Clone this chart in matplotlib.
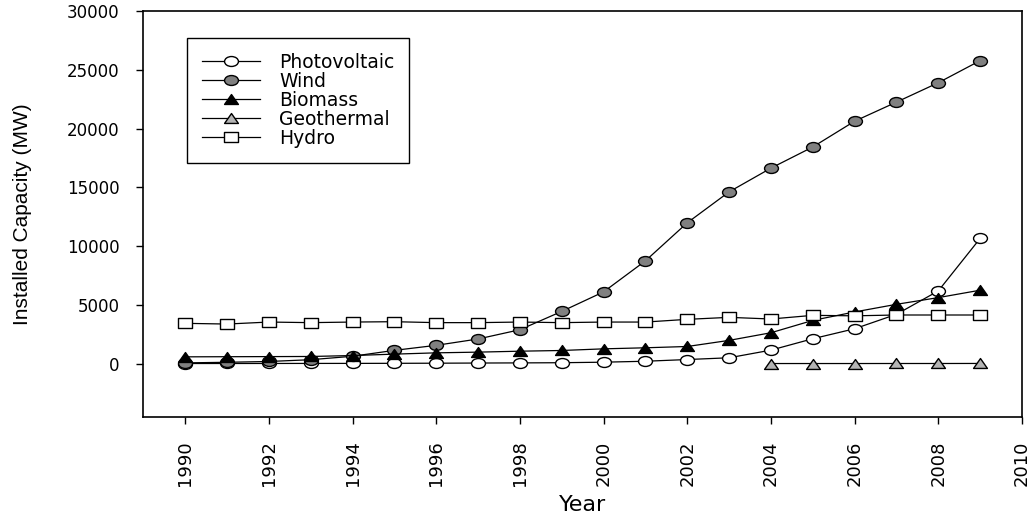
import numpy as np
import matplotlib
matplotlib.use("Agg")
from matplotlib import pyplot as plt
from matplotlib.path import Path
from matplotlib.transforms import Affine2D

years = list(range(1990, 2010))
geo_years = list(range(2004, 2010))

photovoltaic = [2, 3, 6, 9, 12, 18, 28, 42, 54, 70,
                114, 195, 340, 490, 1140, 2110, 2960, 4190, 6180, 10650]
wind = [55, 106, 174, 326, 618, 1121, 1549, 2089, 2877, 4435,
        6097, 8738, 11976, 14609, 16629, 18428, 20622, 22247, 23897, 25777]
biomass = [570, 580, 590, 600, 680, 800, 910, 970, 1050, 1110,
           1250, 1340, 1450, 1970, 2620, 3670, 4390, 5040, 5610, 6240]
geothermal = [0.2, 0.2, 0.4, 3, 3, 7.5]
hydro = [3420, 3360, 3530, 3480, 3530, 3560, 3480, 3480, 3530, 3480,
         3530, 3530, 3760, 3930, 3790, 4100, 4060, 4130, 4130, 4130]

x_ticks = list(range(1990, 2011, 2))
y_ticks = list(range(0, 30001, 5000))

plt.rcParams["font.family"] = "DejaVu Sans"

# the original picture is stretched sideways, so the markers are too
stretch = Affine2D().scale(1.4, 1.0)
circle = Path.unit_circle().transformed(stretch)
tri = Path([(0, 1), (-1, -1), (1, -1), (0, 1)],
           [Path.MOVETO, Path.LINETO, Path.LINETO, Path.CLOSEPOLY]).transformed(stretch)
square = Path([(-1, -1), (1, -1), (1, 1), (-1, 1), (-1, -1)],
              [Path.MOVETO, Path.LINETO, Path.LINETO, Path.LINETO, Path.CLOSEPOLY]).transformed(stretch)

fig = plt.figure(figsize=(10.33, 5.14), dpi=100)
ax = fig.add_axes([143.3 / 1033, 1 - 417 / 514, (1022 - 143.3) / 1033, (417 - 11) / 514])

kw = dict(color="black", lw=0.9, markeredgecolor="black", markeredgewidth=1.0)
ax.plot(years, photovoltaic, marker=circle, ms=10, markerfacecolor="white", label="Photovoltaic", **kw)
ax.plot(years, wind, marker=circle, ms=10, markerfacecolor="#808080", label="Wind", **kw)
ax.plot(years, biomass, marker=tri, ms=10, markerfacecolor="black", label="Biomass", **kw)
ax.plot(geo_years, geothermal, marker=tri, ms=10, markerfacecolor="#b4b4b4", label="Geothermal", **kw)
ax.plot(years, hydro, marker=square, ms=9.5, markerfacecolor="white", label="Hydro", **kw)

ax.set_xlim(1989, 2010)
ax.set_ylim(-4550, 30000)
ax.set_xticks(x_ticks)
ax.set_xticklabels([str(t) for t in x_ticks], rotation=90, fontsize=13)
ax.set_yticks(y_ticks)
ax.set_yticklabels([str(t) for t in y_ticks], fontsize=12)
ax.tick_params(direction="out", length=5, width=1, pad=12)

for s in ax.spines.values():
    s.set_linewidth(1.2)

ax.set_xlabel("Year", fontsize=16, labelpad=6)
ax.set_ylabel("Installed Capacity (MW)", fontsize=15, labelpad=25, family="Liberation Sans")

leg = ax.legend(loc="upper left", bbox_to_anchor=(187 / 1033, 1 - 38 / 514),
                bbox_transform=fig.transFigure, borderaxespad=0, fontsize=13.5,
                frameon=True, fancybox=False, edgecolor="black", framealpha=1,
                handlelength=3.1, handletextpad=1.0, borderpad=0.8, labelspacing=0.0)
leg.get_frame().set_linewidth(1.0)

fig.savefig("out.png", dpi=100)
